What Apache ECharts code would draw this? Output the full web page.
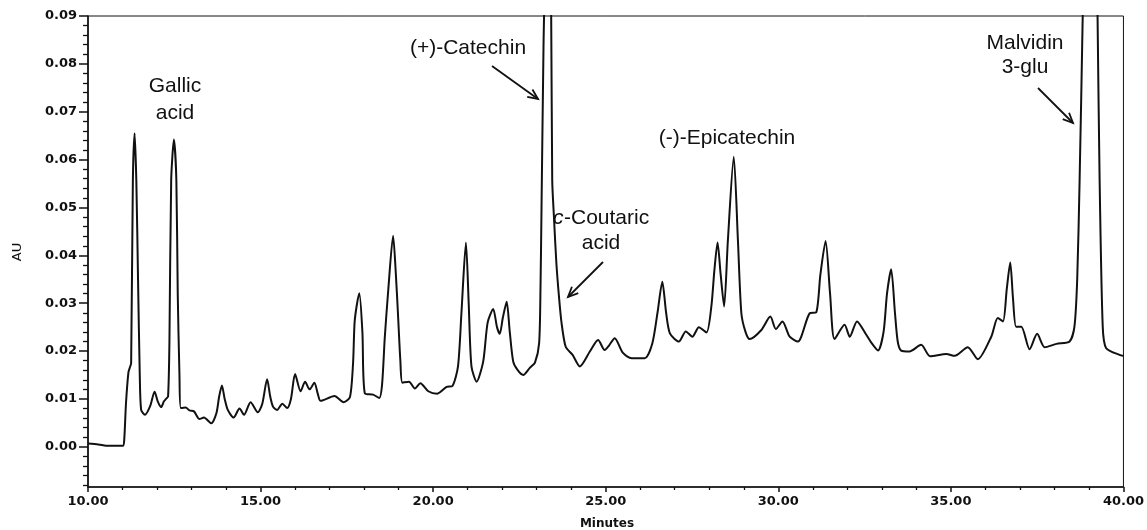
<!DOCTYPE html>
<html><head><meta charset="utf-8">
<script src="https://cdn.jsdelivr.net/npm/echarts@6/dist/echarts.min.js"></script>
<style>html,body{margin:0;padding:0;background:#fff}#c{width:1147px;height:530px}</style>
</head><body><div id="c"></div>
<script>
// Retention time (minutes)
var times = [10.00,10.30,10.60,11.01,11.05,11.10,11.17,11.21,11.25,11.30,11.35,11.40,11.45,11.50,11.54,11.65,11.80,11.93,12.02,12.12,12.20,12.26,12.32,12.36,12.41,12.49,12.56,12.60,12.65,12.69,12.83,12.94,13.07,13.23,13.36,13.57,13.72,13.80,13.88,13.96,14.05,14.22,14.39,14.52,14.71,14.92,15.05,15.19,15.28,15.36,15.48,15.63,15.77,15.88,16.00,16.16,16.29,16.42,16.56,16.66,16.74,17.14,17.41,17.59,17.68,17.73,17.86,17.95,18.02,18.26,18.44,18.52,18.60,18.70,18.84,18.92,18.98,19.05,19.11,19.30,19.47,19.63,19.86,20.12,20.39,20.56,20.72,20.82,20.95,21.03,21.11,21.26,21.45,21.58,21.74,21.85,21.93,22.02,22.13,22.22,22.32,22.45,22.61,22.80,22.95,23.07,23.11,23.14,23.20,23.23,23.30,23.38,23.42,23.45,23.50,23.57,23.65,23.72,23.84,24.04,24.25,24.54,24.78,24.97,25.10,25.26,25.50,25.75,26.13,26.35,26.50,26.64,26.75,26.86,27.12,27.32,27.51,27.70,27.92,28.06,28.15,28.24,28.33,28.43,28.54,28.71,28.83,28.93,29.05,29.17,29.51,29.77,29.93,30.12,30.33,30.57,30.91,31.10,31.22,31.37,31.50,31.63,31.92,32.07,32.28,32.55,32.70,32.89,33.05,33.15,33.27,33.38,33.46,33.56,33.80,34.14,34.40,34.87,35.11,35.49,35.78,36.17,36.36,36.51,36.62,36.72,36.80,36.89,37.04,37.28,37.50,37.72,38.06,38.44,38.58,38.66,38.73,38.82,38.95,39.05,39.15,39.25,39.31,39.40,39.50,39.93,40.00];
// Absorbance (AU)
var absorbance = [0.0007,0.0005,0.0002,0.0002,0.0015,0.0090,0.0155,0.0165,0.0175,0.0557,0.0655,0.0557,0.0349,0.0150,0.0077,0.0067,0.0085,0.0115,0.0095,0.0083,0.0095,0.0100,0.0105,0.0223,0.0557,0.0642,0.0557,0.0320,0.0150,0.0081,0.0082,0.0076,0.0074,0.0058,0.0061,0.0049,0.0070,0.0105,0.0128,0.0100,0.0077,0.0061,0.0080,0.0067,0.0093,0.0072,0.0090,0.0141,0.0105,0.0084,0.0077,0.0090,0.0081,0.0100,0.0152,0.0116,0.0136,0.0120,0.0134,0.0110,0.0096,0.0106,0.0093,0.0104,0.0175,0.0265,0.0321,0.0240,0.0112,0.0109,0.0102,0.0130,0.0230,0.0328,0.0441,0.0360,0.0279,0.0180,0.0134,0.0136,0.0122,0.0133,0.0116,0.0111,0.0125,0.0127,0.0168,0.0280,0.0427,0.0300,0.0168,0.0136,0.0178,0.0260,0.0288,0.0250,0.0236,0.0270,0.0303,0.0240,0.0178,0.0160,0.0150,0.0165,0.0176,0.0216,0.0330,0.0500,0.0850,0.0950,0.1100,0.1000,0.0900,0.0557,0.0480,0.0384,0.0310,0.0259,0.0209,0.0192,0.0168,0.0199,0.0223,0.0202,0.0212,0.0227,0.0196,0.0185,0.0185,0.0216,0.0280,0.0345,0.0280,0.0237,0.0220,0.0241,0.0230,0.0250,0.0239,0.0293,0.0370,0.0427,0.0360,0.0293,0.0432,0.0606,0.0432,0.0279,0.0240,0.0225,0.0244,0.0272,0.0246,0.0262,0.0230,0.0220,0.0279,0.0281,0.0360,0.0430,0.0320,0.0225,0.0255,0.0230,0.0262,0.0234,0.0217,0.0201,0.0240,0.0320,0.0371,0.0280,0.0220,0.0201,0.0199,0.0213,0.0189,0.0194,0.0190,0.0208,0.0183,0.0230,0.0269,0.0262,0.0330,0.0385,0.0310,0.0251,0.0251,0.0204,0.0236,0.0208,0.0215,0.0220,0.0251,0.0349,0.0557,0.0900,0.1500,0.1800,0.1500,0.0900,0.0557,0.0251,0.0206,0.0191,0.0190];
var yLabelValues = [0.00,0.01,0.02,0.03,0.04,0.05,0.06,0.07,0.08,0.09];
var yMinorValues = [-0.008,-0.006,-0.004,-0.002,0.002,0.004,0.006,0.008,0.012,0.014,0.016,0.018,0.022,0.024,0.026,0.028,0.032,0.034,0.036,0.038,0.042,0.044,0.046,0.048,0.052,0.054,0.056,0.058,0.062,0.064,0.066,0.068,0.072,0.074,0.076,0.078,0.082,0.084,0.086,0.088];

var chart = echarts.init(document.getElementById('c'), null, {renderer:'canvas'});
var pts = times.map(function(t,i){return [t, absorbance[i]];});
var tickFont = {fontFamily:'DejaVu Sans', fontWeight:'bold', fontSize:13, color:'#111'};
var Y0 = -0.0084, Y1 = 0.09;

function arrow(x1,y1,x2,y2){
  var a = Math.atan2(y2-y1,x2-x1), L=11, s=0.42;
  return [
    {type:'line', shape:{x1:x1,y1:y1,x2:x2,y2:y2}, style:{stroke:'#111',lineWidth:1.8}, z:10},
    {type:'polyline', shape:{points:[[x2-L*Math.cos(a-s),y2-L*Math.sin(a-s)],[x2,y2],[x2-L*Math.cos(a+s),y2-L*Math.sin(a+s)]]}, style:{stroke:'#111',lineWidth:1.8,fill:null}, z:10}
  ];
}
function label(txt,x,y,align,italic){
  return {type:'text', x:x, y:y, z:10, style:{text:txt, fontSize:21, fontFamily:'Liberation Sans', fontStyle:italic?'italic':'normal', fill:'#111', align:align||'center', verticalAlign:'middle'}};
}
var graphics = [
  label('Gallic', 175, 86), label('acid', 175, 113),
  label('(+)-Catechin', 468, 48),
  label('c', 553, 218, 'left', true), label('-Coutaric', 564, 218, 'left'),
  label('acid', 601, 243),
  label('(-)-Epicatechin', 727, 138),
  label('Malvidin', 1025, 43), label('3-glu', 1025, 67),
  {type:'text', x:18, y:252, rotation:Math.PI/2, z:10, style:{text:'AU', fontSize:13, fontFamily:'DejaVu Sans', fill:'#111', align:'center', verticalAlign:'middle'}},
  {type:'text', x:607, y:524, z:10, style:{text:'Minutes', fontSize:12, fontWeight:'bold', fontFamily:'DejaVu Sans', fill:'#111', align:'center', verticalAlign:'middle'}}
].concat(arrow(492,66,538,99)).concat(arrow(603,262,568,297)).concat(arrow(1038,88,1073,123));

chart.setOption({
  animation:false,
  backgroundColor:'#fff',
  grid:{left:88, right:23, top:16, bottom:43, show:true, borderColor:'#111', borderWidth:1, backgroundColor:'transparent'},
  xAxis:{type:'value', min:10, max:40, interval:5,
    axisLine:{onZero:false, lineStyle:{color:'#111', width:1.6}},
    axisTick:{show:true, length:5, lineStyle:{color:'#111', width:1.5}},
    minorTick:{show:true, splitNumber:5, length:3, lineStyle:{color:'#111', width:1.3}},
    splitLine:{show:false},
    axisLabel:Object.assign({margin:8, formatter:function(v){return v.toFixed(2);}, showMinLabel:true, showMaxLabel:true}, tickFont)
  },
  yAxis:[
    {type:'value', min:Y0, max:Y1,
      axisLine:{show:true, onZero:false, lineStyle:{color:'#111', width:1.6}},
      axisTick:{show:true, length:9, lineStyle:{color:'#111', width:1.5}, customValues:yLabelValues},
      splitLine:{show:false},
      axisLabel:Object.assign({margin:11, customValues:yLabelValues, formatter:function(v){return v.toFixed(2);}}, tickFont)
    },
    {type:'value', min:Y0, max:Y1, position:'left',
      axisLine:{show:false},
      axisTick:{show:true, length:5, lineStyle:{color:'#111', width:1.3}, customValues:yMinorValues},
      splitLine:{show:false},
      axisLabel:{show:false}
    }
  ],
  series:[{type:'line', data:pts, showSymbol:false, symbol:'none', smooth:0.25, clip:true,
    lineStyle:{color:'#111', width:2}, yAxisIndex:0}],
  graphic:graphics
});
</script></body></html>
